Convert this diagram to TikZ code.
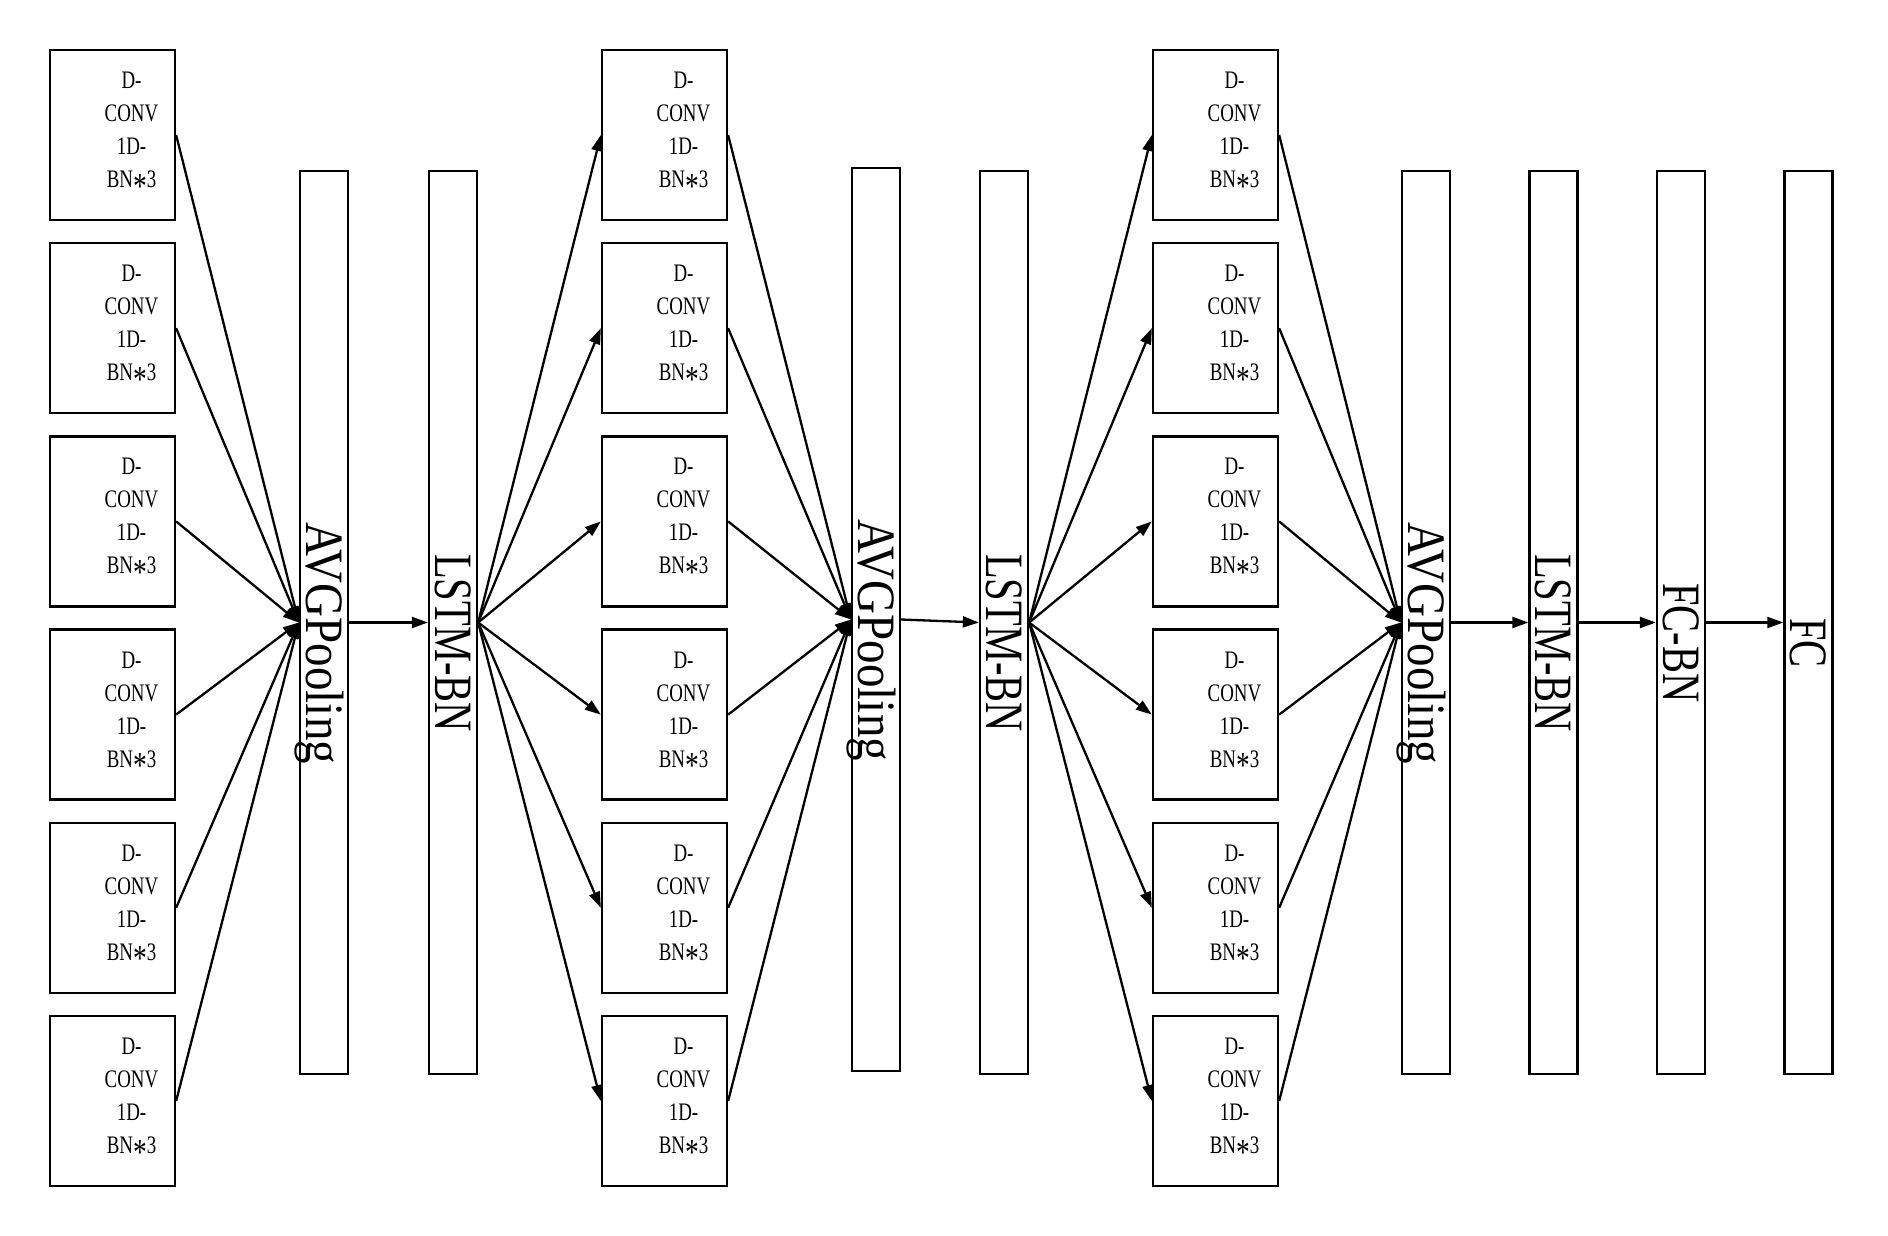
\documentclass[tikz,border=0pt]{standalone}
\usepackage{graphicx}
\usepackage{fontspec}
\newfontfamily\simfont{Liberation Serif}[FakeStretch=0.75]
\newfontfamily\simwide{Liberation Serif}[FakeStretch=0.87]
\usetikzlibrary{arrows.meta}
\newcommand\convstar{\raisebox{-.42em}{\scalebox{1.45}{*}}}
\tikzset{
  convtext/.style={align=center, xshift=19pt, inner sep=0pt, font=\simfont\fontsize{25.2}{33}\selectfont},
  convbox/.style={draw, line width=2.3pt, minimum width=125pt, minimum height=170pt, inner sep=0pt,
    label={[convtext]center:{D-\\CONV\\1D-\\BN\convstar3}}},
  barbox/.style={draw, line width=2.3pt, minimum width=48pt, minimum height=903pt, inner sep=0pt},
  bartext/.style={rotate=-90, inner sep=0pt, text height=36pt, text depth=0pt, font=\simfont\fontsize{54}{54}\selectfont},
  flow/.style={line width=2.3pt, -{Triangle[length=16pt,width=11pt]}},
}
\begin{document}
\begin{tikzpicture}[x=1pt, y=-1pt]
\useasboundingbox (0,0) rectangle (1888,1236);
% first conv column
\node[convbox] (convA1) at (112.5, 135) {};
\node[convbox] (convA2) at (112.5, 328.2) {};
\node[convbox] (convA3) at (112.5, 521.4) {};
\node[convbox] (convA4) at (112.5, 714.6) {};
\node[convbox] (convA5) at (112.5, 907.8) {};
\node[convbox] (convA6) at (112.5, 1101) {};
% second conv column
\node[convbox] (convB1) at (664.5, 135) {};
\node[convbox] (convB2) at (664.5, 328.2) {};
\node[convbox] (convB3) at (664.5, 521.4) {};
\node[convbox] (convB4) at (664.5, 714.6) {};
\node[convbox] (convB5) at (664.5, 907.8) {};
\node[convbox] (convB6) at (664.5, 1101) {};
% third conv column
\node[convbox] (convC1) at (1215.5, 135) {};
\node[convbox] (convC2) at (1215.5, 328.2) {};
\node[convbox] (convC3) at (1215.5, 521.4) {};
\node[convbox] (convC4) at (1215.5, 714.6) {};
\node[convbox] (convC5) at (1215.5, 907.8) {};
\node[convbox] (convC6) at (1215.5, 1101) {};
% bars
\node[barbox] (avgA) at (324, 622.5) {};
\node[barbox] (lstmA) at (453, 622.5) {};
\node[barbox] (avgB) at (876, 619.5) {};
\node[barbox] (lstmB) at (1004, 622.5) {};
\node[barbox] (avgC) at (1426, 622.5) {};
\node[barbox] (lstmC) at (1553.5, 622.5) {};
\node[barbox] (fcbn) at (1681, 622.5) {};
\node[barbox] (fc) at (1808.5, 622.5) {};
\node[bartext] (avgAtext) at ([yshift=-20.5pt]avgA.center) {\simwide AVGPooling};
\node[bartext] (lstmAtext) at ([yshift=-20.5pt]lstmA.center) {LSTM-BN};
\node[bartext] (avgBtext) at ([yshift=-20.5pt]avgB.center) {\simwide AVGPooling};
\node[bartext] (lstmBtext) at ([yshift=-20.5pt]lstmB.center) {LSTM-BN};
\node[bartext] (avgCtext) at ([yshift=-20.5pt]avgC.center) {\simwide AVGPooling};
\node[bartext] (lstmCtext) at ([yshift=-20.5pt]lstmC.center) {LSTM-BN};
\node[bartext] (fcbntext) at ([yshift=-20.5pt]fcbn.center) {FC-BN};
\node[bartext] (fctext) at ([yshift=-20.5pt]fc.center) {FC};
% column A into pooling
\draw[flow] (convA1.east) -- (avgA.west);
\draw[flow] (convA2.east) -- (avgA.west);
\draw[flow] (convA3.east) -- (avgA.west);
\draw[flow] (convA4.east) -- (avgA.west);
\draw[flow] (convA5.east) -- (avgA.west);
\draw[flow] (convA6.east) -- (avgA.west);
\draw[flow] (avgA.east) -- (lstmA.west);
% lstm out to column B
\draw[flow] (lstmA.east) -- (convB1.west);
\draw[flow] (lstmA.east) -- (convB2.west);
\draw[flow] (lstmA.east) -- (convB3.west);
\draw[flow] (lstmA.east) -- (convB4.west);
\draw[flow] (lstmA.east) -- (convB5.west);
\draw[flow] (lstmA.east) -- (convB6.west);
% column B into pooling
\draw[flow] (convB1.east) -- (avgB.west);
\draw[flow] (convB2.east) -- (avgB.west);
\draw[flow] (convB3.east) -- (avgB.west);
\draw[flow] (convB4.east) -- (avgB.west);
\draw[flow] (convB5.east) -- (avgB.west);
\draw[flow] (convB6.east) -- (avgB.west);
\draw[flow] (avgB.east) -- (lstmB.west);
% lstm out to column C
\draw[flow] (lstmB.east) -- (convC1.west);
\draw[flow] (lstmB.east) -- (convC2.west);
\draw[flow] (lstmB.east) -- (convC3.west);
\draw[flow] (lstmB.east) -- (convC4.west);
\draw[flow] (lstmB.east) -- (convC5.west);
\draw[flow] (lstmB.east) -- (convC6.west);
% column C into pooling
\draw[flow] (convC1.east) -- (avgC.west);
\draw[flow] (convC2.east) -- (avgC.west);
\draw[flow] (convC3.east) -- (avgC.west);
\draw[flow] (convC4.east) -- (avgC.west);
\draw[flow] (convC5.east) -- (avgC.west);
\draw[flow] (convC6.east) -- (avgC.west);
% head
\draw[flow] (avgC.east) -- (lstmC.west);
\draw[flow] (lstmC.east) -- (fcbn.west);
\draw[flow] (fcbn.east) -- (fc.west);
\end{tikzpicture}
\end{document}
